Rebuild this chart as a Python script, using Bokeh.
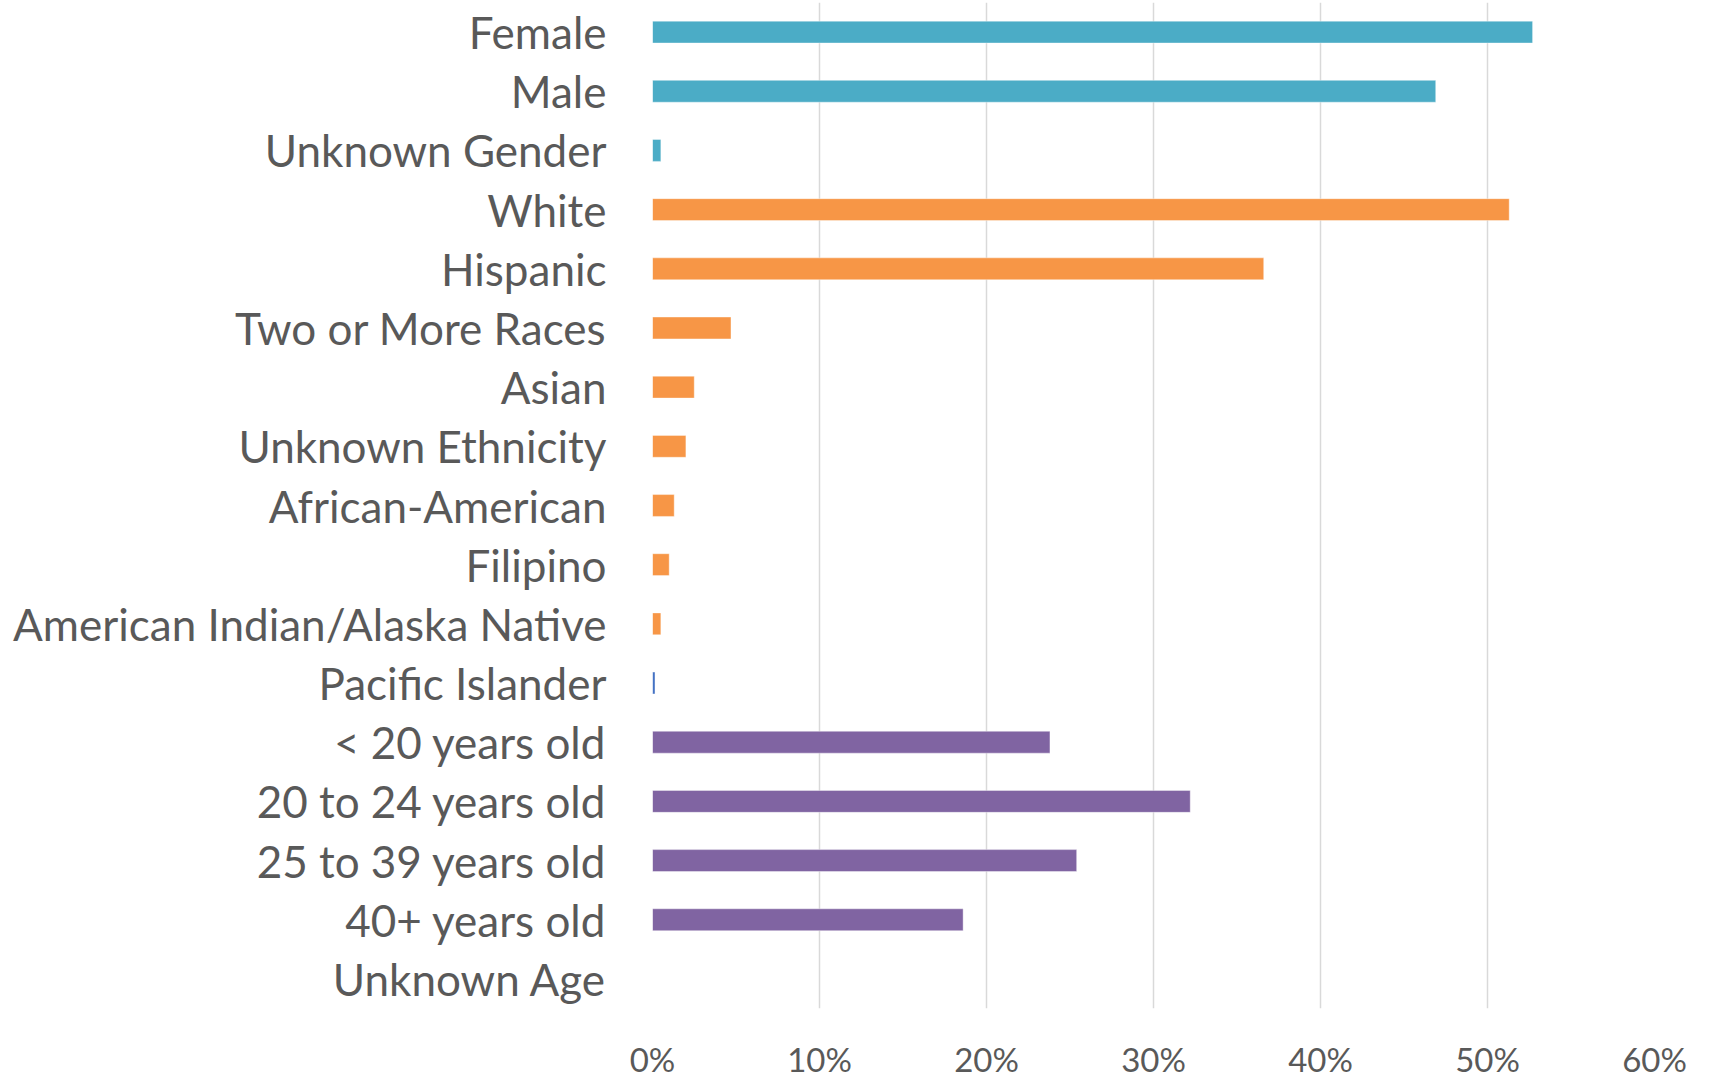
from bokeh.plotting import figure
from bokeh.models import FactorRange, Range1d, FixedTicker, PrintfTickFormatter, ColumnDataSource
from bokeh.embed import file_html
from bokeh.resources import INLINE

categories = ["Female", "Male", "Unknown Gender", "White", "Hispanic",
              "Two or More Races", "Asian", "Unknown Ethnicity", "African-American",
              "Filipino", "American Indian/Alaska Native", "Pacific Islander",
              "< 20 years old", "20 to 24 years old", "25 to 39 years old",
              "40+ years old", "Unknown Age"]
values = [52.7, 46.9, 0.5, 51.3, 36.6, 4.7, 2.5, 2.0, 1.3, 1.0, 0.5, 0.15,
          23.8, 32.2, 25.4, 18.6, 0.0]
groups = ["Gender"] * 3 + ["Ethnicity"] * 8 + ["Pacific"] + ["Age"] * 5
group_colors = {"Gender": "#4BACC6", "Ethnicity": "#F79646",
                "Pacific": "#4472C4", "Age": "#8064A2"}
tick_values = [0, 10, 20, 30, 40, 50, 60]

source = ColumnDataSource(dict(
    cat=categories,
    val=values,
    color=[group_colors[g] for g in groups],
))

p = figure(
    width=1709, height=1081,
    y_range=FactorRange(factors=list(reversed(categories))),
    x_range=Range1d(0, 60),
    output_backend="svg", toolbar_location=None,
    min_border_left=652, min_border_right=55,
    min_border_top=2, min_border_bottom=62,
)

p.hbar(y="cat", right="val", left=0, height=0.37, fill_color="color",
       line_color="white", line_alpha=0.4, line_width=1, source=source)

p.outline_line_color = None
p.ygrid.grid_line_color = None
p.xgrid.grid_line_color = "#D9D9D9"
p.xgrid.grid_line_width = 1.5
p.xgrid.level = "underlay"

p.xaxis.ticker = FixedTicker(ticks=tick_values)
p.xaxis.formatter = PrintfTickFormatter(format="%d%%")
p.xaxis.axis_line_color = None
p.xaxis.major_tick_line_color = None
p.xaxis.minor_tick_line_color = None
p.xaxis.major_label_text_font = "Lato"
p.xaxis.major_label_text_font_size = "33px"
p.xaxis.major_label_text_color = "#595959"
p.xaxis.major_label_standoff = 24

p.yaxis.axis_line_color = None
p.yaxis.major_tick_line_color = None
p.yaxis.minor_tick_line_color = None
p.yaxis.major_label_text_font = "Lato"
p.yaxis.major_label_text_font_size = "44px"
p.yaxis.major_label_text_color = "#595959"
p.yaxis.major_label_standoff = 40

open("out.html", "w").write(file_html(p, INLINE))
